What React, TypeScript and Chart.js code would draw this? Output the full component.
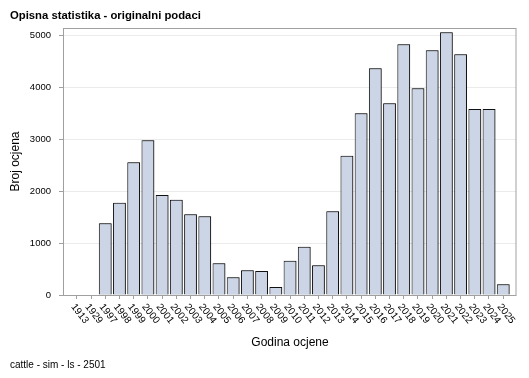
import React, { useEffect, useRef } from 'react';
import { Chart, registerables } from 'chart.js';

Chart.register(...registerables);

const categories = [
  '1913', '1929', '1997', '1998', '1999', '2000', '2001', '2002', '2003', '2004',
  '2005', '2006', '2007', '2008', '2009', '2010', '2011', '2012', '2013', '2014',
  '2015', '2016', '2017', '2018', '2019', '2020', '2021', '2022', '2023', '2024', '2025',
];
const counts = [
  10, 8, 1379, 1775, 2551, 2974, 1923, 1833, 1551, 1513,
  609, 340, 474, 461, 154, 660, 929, 571, 1609, 2679,
  3494, 4359, 3686, 4821, 3974, 4705, 5051, 4628, 3577, 3577, 205,
];
const yTicks = [0, 1000, 2000, 3000, 4000, 5000];
const titleText = 'Opisna statistika - originalni podaci';
const footerText = 'cattle - sim - ls - 2501';
const xTitle = 'Godina ocjene';
const yTitle = 'Broj ocjena';

const FONT = '"Liberation Sans", Arial, sans-serif';

const deco = {
  id: 'deco',
  beforeDatasetsDraw(chart: any) {
    const ctx = chart.ctx;
    ctx.save();
    ctx.shadowColor = 'rgba(0,0,0,0.45)';
    ctx.shadowOffsetX = 1;
    ctx.shadowOffsetY = 0;
    ctx.shadowBlur = 0;
  },
  afterDatasetsDraw(chart: any) {
    chart.ctx.restore();
  },
  afterDraw(chart: any) {
    const ctx = chart.ctx;
    const { left, right, top, bottom } = chart.chartArea;
    const xs = chart.scales.x;
    ctx.save();
    // frame
    ctx.strokeStyle = '#a0a0a0';
    ctx.lineWidth = 1;
    ctx.strokeRect(left - 0.5, top + 0.5, right - left + 0.5, bottom - top);
    // x tick labels
    ctx.fillStyle = '#000';
    ctx.font = `10px ${FONT}`;
    categories.forEach((c, i) => {
      const x = xs.getPixelForValue(i);
      ctx.save();
      ctx.translate(x - 4, bottom + 10);
      ctx.rotate((52 * Math.PI) / 180);
      ctx.textAlign = 'left';
      ctx.textBaseline = 'middle';
      ctx.fillText(c, 0, 0);
      ctx.restore();
    });
    // title
    ctx.font = `bold 11.3px ${FONT}`;
    ctx.textAlign = 'left';
    ctx.textBaseline = 'alphabetic';
    ctx.fillText(titleText, 10, 18.5);
    // footer
    ctx.font = `10px ${FONT}`;
    ctx.fillText(footerText, 10, 368);
    // x title
    ctx.font = `12px ${FONT}`;
    ctx.textAlign = 'center';
    ctx.fillText(xTitle, (left + right) / 2, 346);
    // y title
    ctx.save();
    ctx.translate(19, (top + bottom) / 2);
    ctx.rotate(-Math.PI / 2);
    ctx.fillText(yTitle, 0, 0);
    ctx.restore();
    ctx.restore();
  },
};

export default function App() {
  const ref = useRef<HTMLCanvasElement | null>(null);
  useEffect(() => {
    const canvas = ref.current;
    if (!canvas) return;
    const chart = new Chart(canvas, {
      type: 'bar',
      data: {
        datasets: [
          {
            data: counts.map((v, i) => ({ x: i, y: v })),
            backgroundColor: '#cbd5e6',
            borderColor: '#111',
            borderWidth: 1,
            barPercentage: 0.9,
            categoryPercentage: 1,
          },
        ],
      },
      options: {
        responsive: false,
        animation: false,
        events: [],
        layout: { padding: { left: 0, right: 13, top: 28, bottom: 0 } },
        plugins: { legend: { display: false }, tooltip: { enabled: false }, title: { display: false } },
        scales: {
          x: {
            type: 'linear',
            offset: false,
            min: -0.9,
            max: 30.9,
            afterBuildTicks: (s: any) => {
              s.ticks = categories.map((_, i) => ({ value: i }));
            },
            afterFit: (s: any) => {
              s.height = 83;
            },
            ticks: { display: false },
            grid: { offset: false, drawOnChartArea: false, color: '#a0a0a0', tickColor: '#a0a0a0', tickLength: 4 },
            border: { display: false },
          },
          y: {
            min: 0,
            max: 5135,
            afterBuildTicks: (s: any) => {
              s.ticks = yTicks.map((v) => ({ value: v }));
            },
            afterFit: (s: any) => {
              s.width = 64;
            },
            ticks: {
              font: { family: FONT, size: 9.5 },
              color: '#000',
              padding: 8,
              callback: (v: any) => String(v),
            },
            grid: { color: '#ebebeb', tickColor: '#a0a0a0', tickLength: 5 },
            border: { display: false },
          },
        },
      },
      plugins: [deco],
    } as any);
    return () => chart.destroy();
  }, []);
  return (
    <div style={{ position: 'absolute', left: 0, top: 0, width: 529, height: 378, background: '#fff' }}>
      <canvas ref={ref} width={529} height={378} style={{ display: 'block', width: 529, height: 378 }} />
    </div>
  );
}
